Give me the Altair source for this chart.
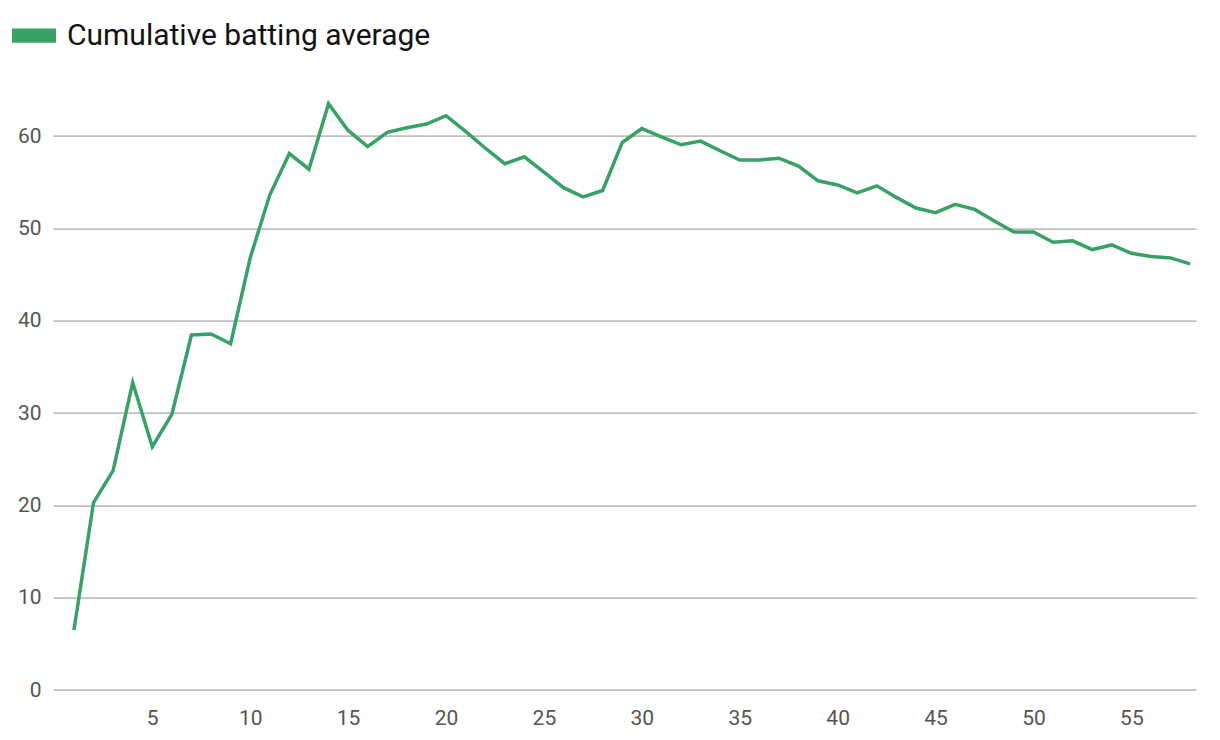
import altair as alt
import pandas as pd

innings = list(range(1, 59))
average = [
    6.5, 20.3, 23.75, 33.3, 26.35, 29.85, 38.45, 38.55, 37.5, 46.8,
    53.6, 58.1, 56.4, 63.5, 60.6, 58.85, 60.4, 60.9, 61.3, 62.2,
    60.5, 58.7, 57.0, 57.75, 56.1, 54.4, 53.4, 54.1, 59.3, 60.8,
    59.9, 59.05, 59.45, 58.4, 57.4, 57.4, 57.6, 56.75, 55.15, 54.7,
    53.85, 54.6, 53.35, 52.2, 51.7, 52.6, 52.05, 50.8, 49.6, 49.6,
    48.5, 48.65, 47.7, 48.2, 47.3, 46.95, 46.8, 46.15,
]
series_name = "Cumulative batting average"
x_ticks = [5, 10, 15, 20, 25, 30, 35, 40, 45, 50, 55]
y_ticks = [0, 10, 20, 30, 40, 50, 60]

df = pd.DataFrame({"inning": innings, "avg": average, "series": series_name})

FONT = "Roboto"
GREEN = "#38a165"

chart = alt.Chart(df).mark_line(strokeWidth=3.5, strokeJoin="miter").encode(
    x=alt.X("inning:Q",
            scale=alt.Scale(domain=[-0.07, 58.3], nice=False, zero=False),
            axis=alt.Axis(values=x_ticks, title=None, grid=False, domain=False,
                          ticks=False, labelFontSize=21, labelColor="#555555",
                          labelFont=FONT, labelPadding=17)),
    y=alt.Y("avg:Q",
            scale=alt.Scale(domain=[0, 66], nice=False),
            axis=alt.Axis(values=y_ticks, title=None, grid=True, gridColor="#bfbfbf",
                          gridWidth=1.6, domain=False, ticks=False,
                          labelFontSize=21, labelColor="#555555", labelFont=FONT,
                          labelPadding=12)),
    color=alt.Color("series:N",
                    scale=alt.Scale(domain=[series_name], range=[GREEN]),
                    legend=alt.Legend(title=None, orient="none", legendX=-41, legendY=-67,
                                      symbolType="M-1,-0.32L1,-0.32L1,0.32L-1,0.32Z",
                                      symbolSize=1936, symbolStrokeWidth=0,
                                      symbolFillColor=GREEN, labelFontSize=30,
                                      labelFont=FONT, labelColor="#121212",
                                      labelOffset=11, labelLimit=600)),
).properties(
    width=1143,
    height=609.4,
    padding={"left": 45, "top": 72.6, "right": 16, "bottom": 40},
    autosize=alt.AutoSizeParams(type="none"),
    background="white",
).configure_view(strokeWidth=0, stroke=None)

chart.save("out.html", embed_options={"renderer": "svg", "actions": False})
